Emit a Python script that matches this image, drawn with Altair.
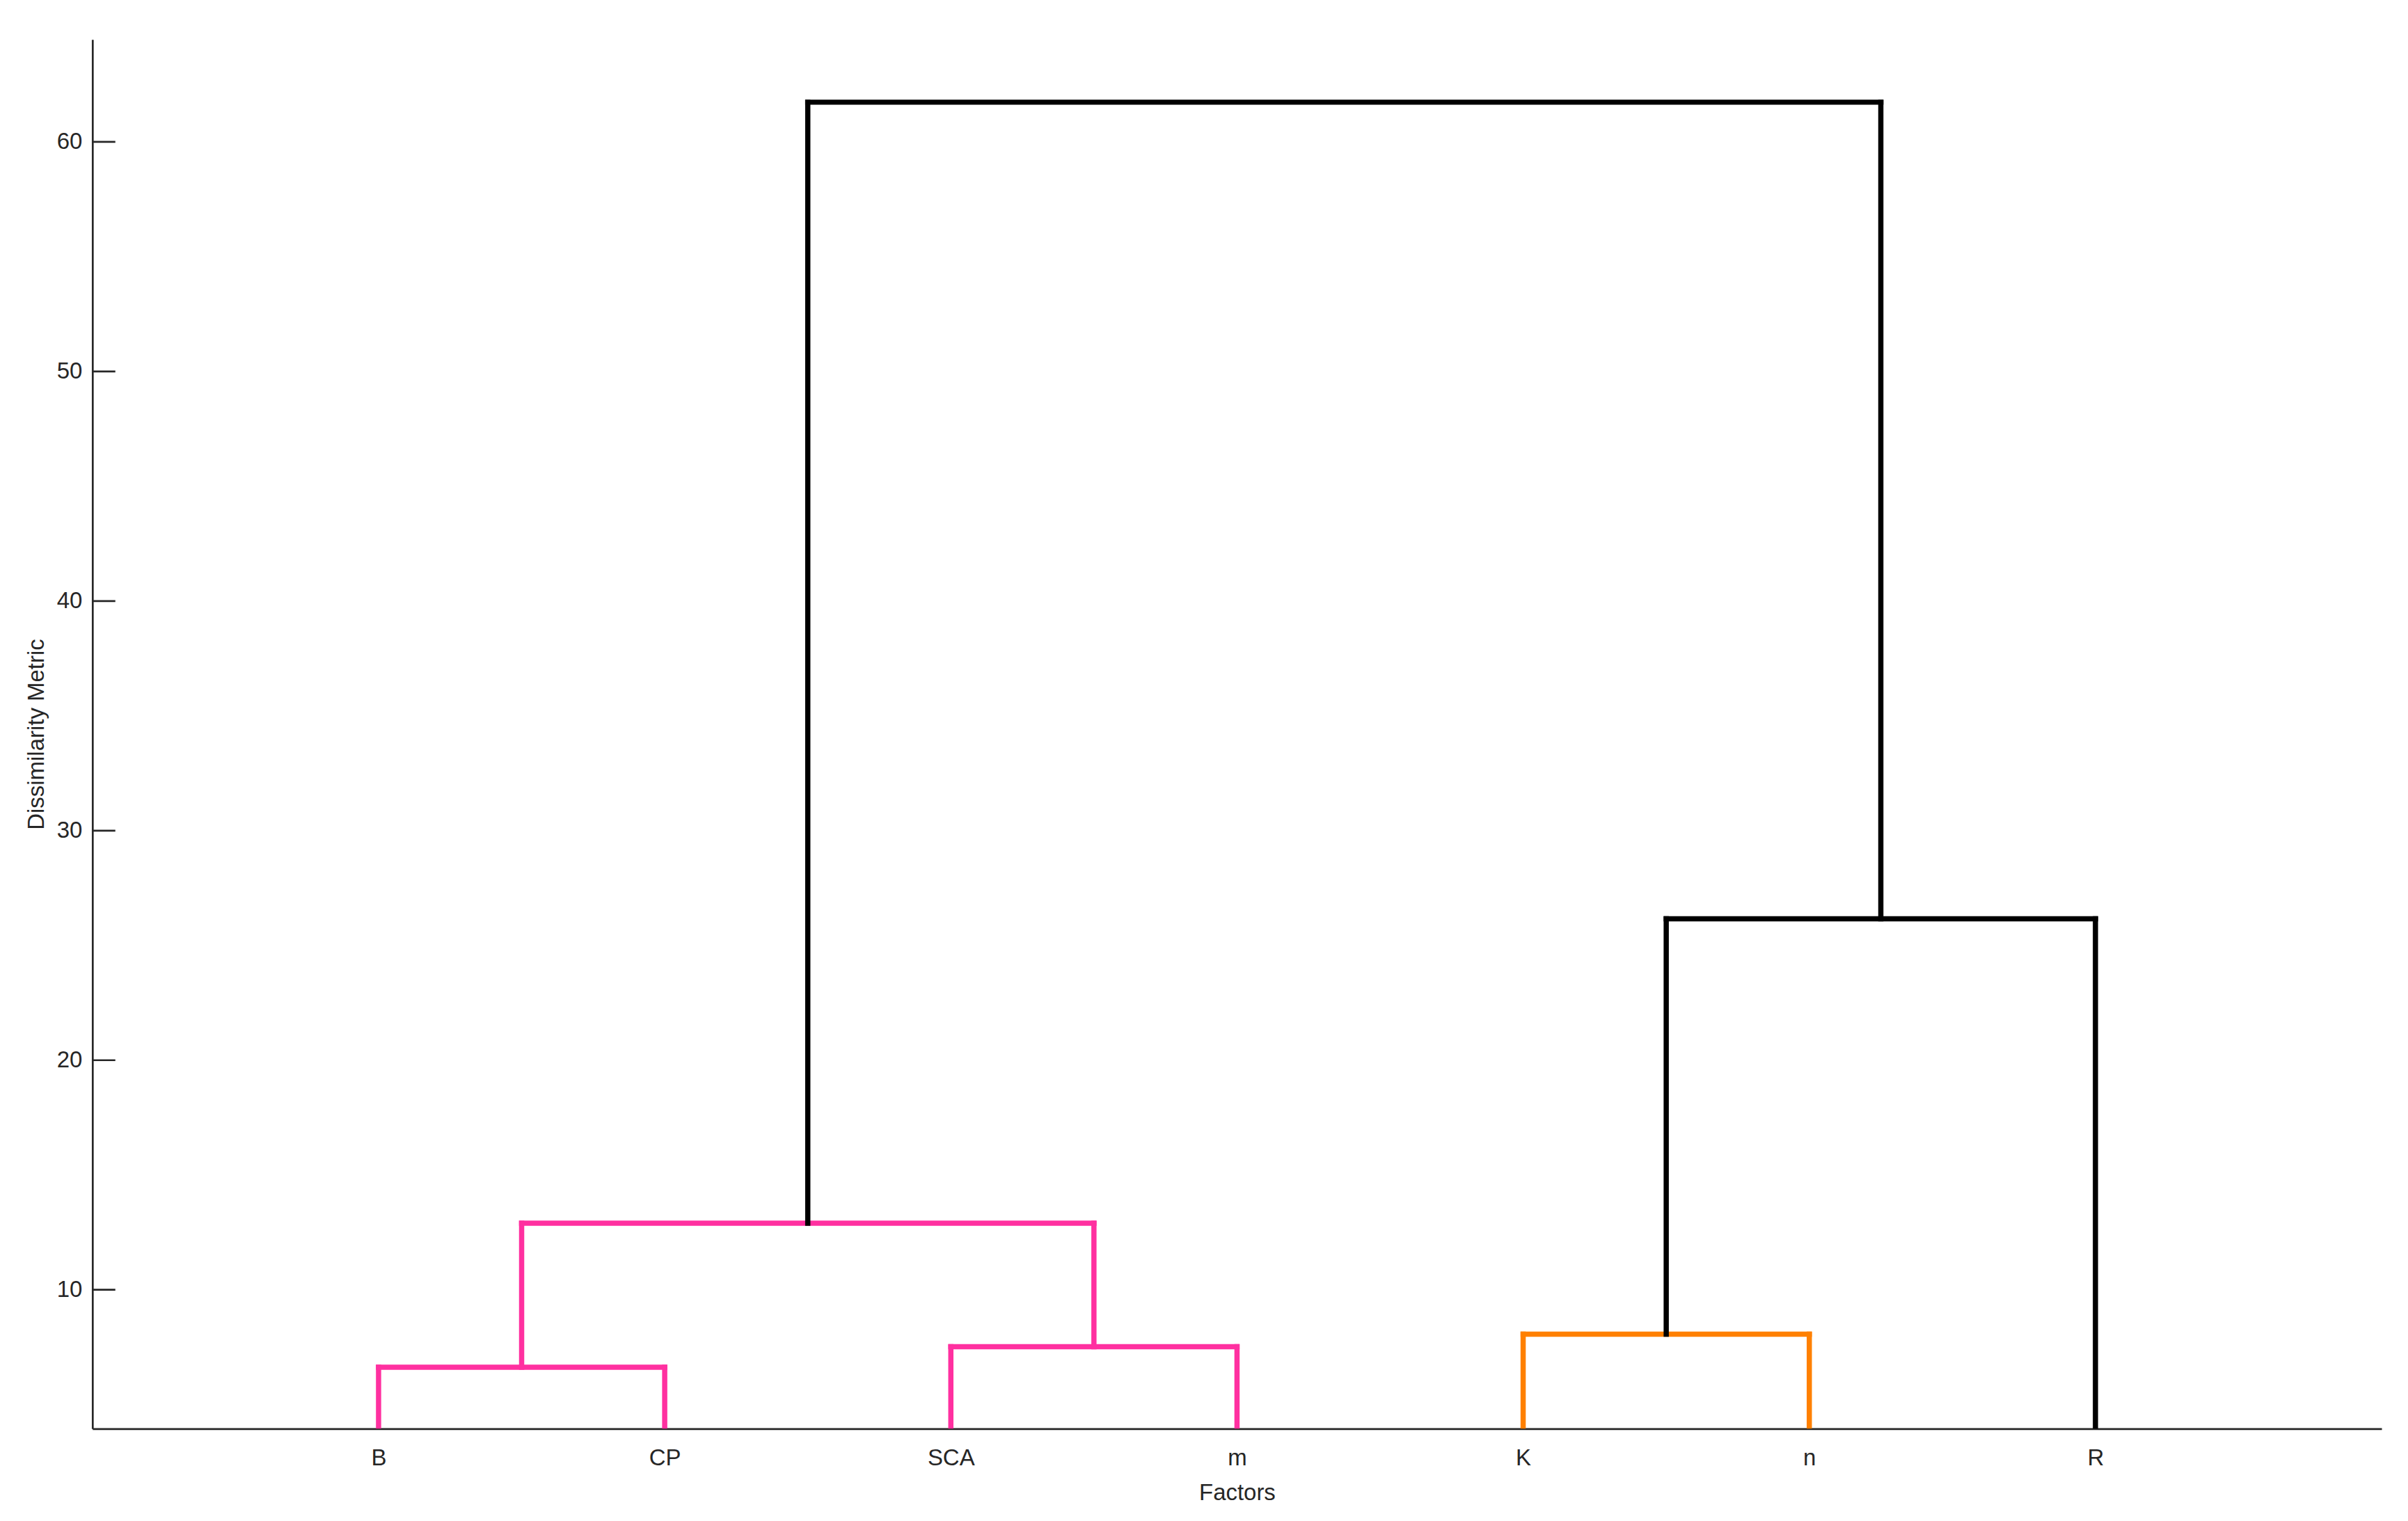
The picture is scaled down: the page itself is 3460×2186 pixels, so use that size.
import json
import altair as alt
import pandas as pd

# ---- data ----
leaves = ["B", "CP", "SCA", "m", "K", "n", "R"]
# MATLAB-style linkage: node ids 1..7 are leaves, 8.. are clusters in row order
link_left = [1, 3, 5, 8, 10, 11]
link_right = [2, 4, 6, 9, 7, 12]
link_height = [6.63, 7.52, 8.07, 12.9, 26.16, 61.73]
link_color = ["pink", "pink", "orange", "pink", "black", "black"]
y_ticks = [10, 20, 30, 40, 50, 60]
y_domain = [3.95, 64.46]
x_domain = [0, len(leaves) + 1]

# ---- build dendrogram segments through the layout rules ----
node_x = {i + 1: float(i + 1) for i in range(len(leaves))}
node_h = {i + 1: 0.0 for i in range(len(leaves))}
rows = []
for k, (a, b, h, c) in enumerate(zip(link_left, link_right, link_height, link_color)):
    nid = len(leaves) + 1 + k
    xa, xb = node_x[a], node_x[b]
    rows.append(dict(x=xa, x2=xa, y=node_h[a], y2=h, c=c))
    rows.append(dict(x=xb, x2=xb, y=node_h[b], y2=h, c=c))
    rows.append(dict(x=xa, x2=xb, y=h, y2=h, c=c))
    node_x[nid] = (xa + xb) / 2
    node_h[nid] = h
seg = pd.DataFrame(rows)
ticks = pd.DataFrame({"v": y_ticks})

FONT = "Liberation Sans"
TXT = "#262626"
W, H = 3295, 2000

xscale = alt.Scale(domain=x_domain, nice=False, zero=False)
yscale = alt.Scale(domain=y_domain, nice=False, zero=False)

label_expr = json.dumps(leaves) + "[datum.value - 1]"

links = alt.Chart(seg).mark_rule(strokeWidth=7.5, strokeCap="square", clip=True).encode(
    x=alt.X("x:Q", scale=xscale,
            axis=alt.Axis(values=list(range(1, len(leaves) + 1)), labelExpr=label_expr,
                          title="Factors", grid=False, ticks=False, labelPadding=26,
                          labelFontSize=33, titleFontSize=33, labelFont=FONT, titleFont=FONT,
                          labelColor=TXT, titleColor=TXT, titleFontWeight="normal",
                          domainColor=TXT, domainWidth=2.7,
                          titleX=W / 2, titleY=92, titleBaseline="middle", titleAlign="center")),
    x2="x2:Q",
    y=alt.Y("y:Q", scale=yscale,
            axis=alt.Axis(values=y_ticks, format="d", title="Dissimilarity Metric", grid=False,
                          ticks=False, labelPadding=15, labelFontSize=33, titleFontSize=33,
                          labelFont=FONT, titleFont=FONT, labelColor=TXT, titleColor=TXT,
                          titleFontWeight="normal", domainColor=TXT, domainWidth=2.7,
                          titleAngle=-90, titleX=-80, titleY=H / 2, titleBaseline="middle",
                          titleAlign="center")),
    y2="y2:Q",
    color=alt.Color("c:N", scale=alt.Scale(domain=["pink", "orange", "black"],
                                           range=["#FF30A0", "#FF8000", "#000000"]),
                    legend=None),
)

inner_ticks = alt.Chart(ticks).mark_rule(strokeWidth=2.7, color=TXT).encode(
    y=alt.Y("v:Q", scale=yscale),
    x=alt.value(0),
    x2=alt.value(33),
)

chart = alt.layer(links, inner_ticks).properties(
    width=W, height=H,
    autosize=alt.AutoSizeParams(type="none"),
    padding={"left": 125, "top": 47, "right": 30, "bottom": 120},
).configure_view(stroke="transparent")

chart.save("out.html", embed_options={"renderer": "svg", "actions": False})
